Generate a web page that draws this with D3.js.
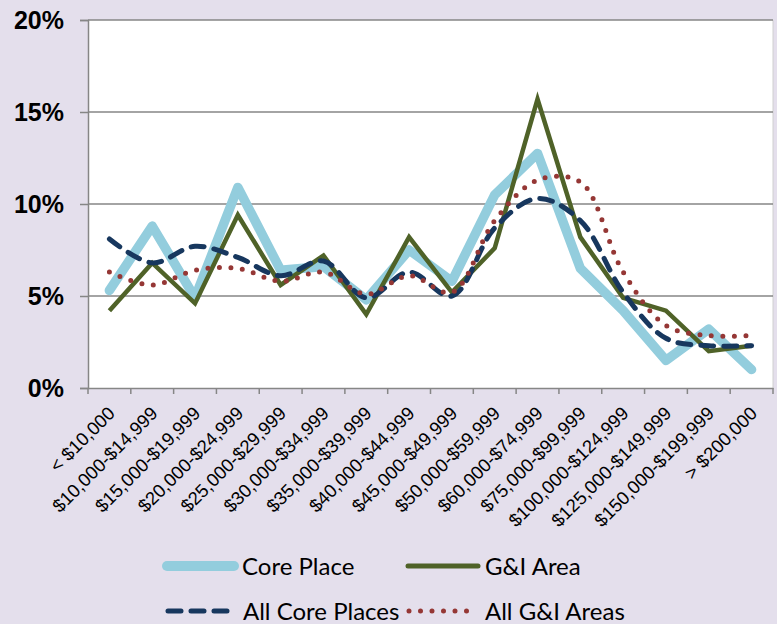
<!DOCTYPE html>
<html>
<head>
<meta charset="utf-8">
<script src="https://cdn.jsdelivr.net/npm/d3@7/dist/d3.min.js"></script>
<style>
  body { margin: 0; background: #E4DFEC; }
  svg { display: block; }
</style>
</head>
<body>
<div class="chart"></div>
<script>
// Data (percent of households by income band)
var categories = ["< $10,000", "$10,000-$14,999", "$15,000-$19,999", "$20,000-$24,999",
  "$25,000-$29,999", "$30,000-$34,999", "$35,000-$39,999", "$40,000-$44,999",
  "$45,000-$49,999", "$50,000-$59,999", "$60,000-$74,999", "$75,000-$99,999",
  "$100,000-$124,999", "$125,000-$149,999", "$150,000-$199,999", "> $200,000"];
var corePlace = [5.3, 8.8, 4.9, 10.9, 6.4, 6.6, 4.8, 7.5, 5.8, 10.5, 12.75, 6.5, 4.2, 1.5, 3.2, 1.0];
var giArea = [4.2, 6.8, 4.6, 9.4, 5.6, 7.2, 4.0, 8.2, 5.2, 7.6, 15.7, 8.2, 4.9, 4.2, 2.0, 2.3];
var allCore = [8.1, 6.8, 7.7, 7.1, 6.1, 6.9, 4.9, 6.3, 5.0, 8.7, 10.3, 9.1, 5.2, 2.7, 2.3, 2.3];
var allGI = [6.3, 5.6, 6.4, 6.5, 5.8, 6.3, 5.1, 6.1, 5.2, 9.1, 11.3, 11.2, 6.3, 3.4, 2.85, 2.85];
var yTicks = [0, 5, 10, 15, 20];
var seriesNames = ["Core Place", "G&I Area", "All Core Places", "All G&I Areas"];

var svgWidth = 777;
var svgHeight = 624;

var margin = { top: 20, right: 4, bottom: 236, left: 88 };
var width = svgWidth - margin.left - margin.right;
var height = svgHeight - margin.top - margin.bottom;

var svg = d3.select(".chart")
  .append("svg")
  .attr("width", svgWidth)
  .attr("height", svgHeight);

svg.append("rect")
  .attr("width", svgWidth)
  .attr("height", svgHeight)
  .attr("fill", "#E4DFEC");

var chartGroup = svg.append("g")
  .attr("transform", `translate(${margin.left}, ${margin.top})`);

var x = d3.scaleBand().domain(categories).range([0, width]);
var y = d3.scaleLinear().domain([0, 20]).range([height, 0]);

// plot area
chartGroup.append("rect")
  .attr("width", width)
  .attr("height", height)
  .attr("fill", "#fff");

chartGroup.append("line")
  .attr("x1", width).attr("x2", width)
  .attr("y1", 0).attr("y2", height)
  .attr("stroke", "#d0d0d0");

// gridlines
chartGroup.selectAll(".grid")
  .data(yTicks.filter(d => d > 0))
  .enter()
  .append("line")
  .attr("x1", 0).attr("x2", width)
  .attr("y1", d => y(d)).attr("y2", d => y(d))
  .attr("stroke", "#868686")
  .attr("stroke-width", 1.3);

// y axis
var yAxis = d3.axisLeft(y).tickValues(yTicks).tickSize(8).tickPadding(16)
  .tickFormat(d => d + "%");
var yg = chartGroup.append("g").call(yAxis);
yg.select(".domain").attr("stroke", "#868686").attr("stroke-width", 1.5);
yg.selectAll(".tick line").attr("stroke", "#868686").attr("stroke-width", 1.5);
yg.selectAll(".tick text")
  .attr("font-family", "Liberation Sans, Arial, sans-serif")
  .attr("font-weight", "bold")
  .attr("font-size", 25)
  .attr("fill", "#000");

// x axis
var xAxis = d3.axisBottom(x).tickSize(0).tickFormat("");
var xg = chartGroup.append("g")
  .attr("transform", `translate(0, ${height})`)
  .call(xAxis);
xg.select(".domain").attr("stroke", "#868686").attr("stroke-width", 1.5);
xg.selectAll(".tick").remove();

var edges = categories.map(c => x(c)).concat([width]);
xg.selectAll(".xtick")
  .data(edges)
  .enter()
  .append("line")
  .attr("x1", d => d).attr("x2", d => d)
  .attr("y1", 0).attr("y2", 6)
  .attr("stroke", "#868686")
  .attr("stroke-width", 1.5);

xg.selectAll(".xlab")
  .data(categories)
  .enter()
  .append("text")
  .attr("transform", d => `translate(${x(d) + x.bandwidth() / 2 + 2}, 22) rotate(-45)`)
  .attr("text-anchor", "end")
  .attr("dy", "0.35em")
  .attr("font-family", "Liberation Sans, Arial, sans-serif")
  .attr("font-size", 18.5)
  .attr("fill", "#000")
  .text(d => d);

// lines
var cx = (d, i) => x(categories[i]) + x.bandwidth() / 2;
var straight = d3.line().x(cx).y(d => y(d));
var smooth = d3.line().x(cx).y(d => y(d)).curve(d3.curveCatmullRom);

var styles = [
  { values: corePlace, gen: straight, color: "#93CDDD", w: 9.5, dash: null, cap: "round", join: "round" },
  { values: giArea, gen: straight, color: "#4F6228", w: 4.5, dash: null, cap: "butt", join: "miter" },
  { values: allCore, gen: smooth, color: "#17375E", w: 5, dash: "13 10", cap: "round", join: "round" },
  { values: allGI, gen: smooth, color: "#953735", w: 5, dash: "0 11.5", cap: "round", join: "round" }
];

styles.forEach(function(s) {
  chartGroup.append("path")
    .attr("d", s.gen(s.values))
    .attr("fill", "none")
    .attr("stroke", s.color)
    .attr("stroke-width", s.w)
    .attr("stroke-dasharray", s.dash)
    .attr("stroke-linecap", s.cap)
    .attr("stroke-linejoin", s.join);
});

// legend
var legendPos = [
  { x1: 167, x2: 234, tx: 242, y: 566 },
  { x1: 408, x2: 478, tx: 485, y: 566 },
  { x1: 168, x2: 227, tx: 243, y: 611 },
  { x1: 409, x2: 470, tx: 485, y: 611 }
];

var legend = svg.selectAll(".legend")
  .data(styles)
  .enter()
  .append("g")
  .attr("class", "legend");

legend.append("line")
  .attr("x1", (d, i) => legendPos[i].x1)
  .attr("x2", (d, i) => legendPos[i].x2)
  .attr("y1", (d, i) => legendPos[i].y)
  .attr("y2", (d, i) => legendPos[i].y)
  .attr("stroke", d => d.color)
  .attr("stroke-width", (d, i) => i == 0 ? 10 : 5)
  .attr("stroke-dasharray", d => d.dash)
  .attr("stroke-linecap", "round");

legend.append("text")
  .attr("x", (d, i) => legendPos[i].tx)
  .attr("y", (d, i) => legendPos[i].y + 9)
  .attr("font-family", "Lato, sans-serif")
  .attr("font-size", 24)
  .attr("fill", "#000")
  .text((d, i) => seriesNames[i]);
</script>
</body>
</html>
